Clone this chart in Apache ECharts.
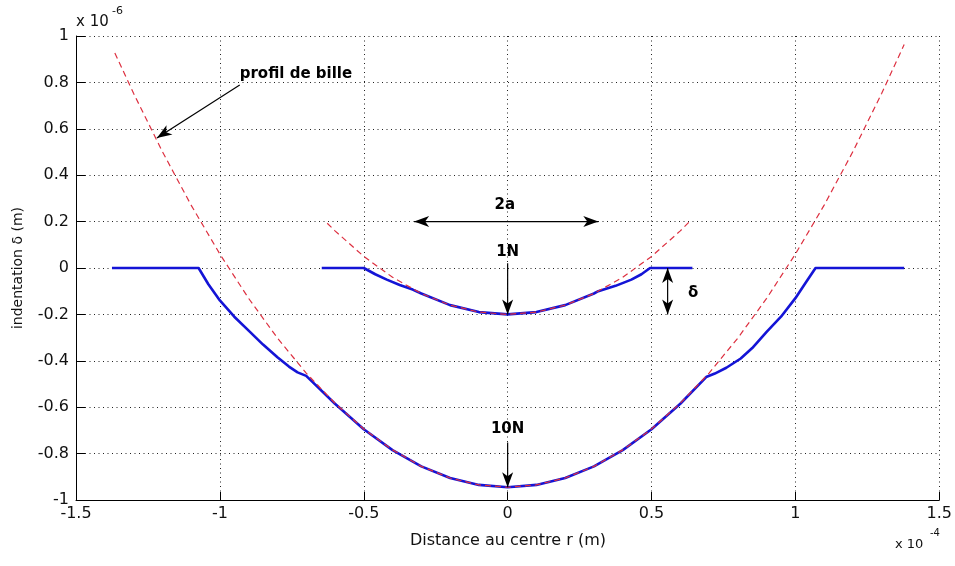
<!DOCTYPE html>
<html>
<head>
<meta charset="utf-8">
<script src="https://cdn.jsdelivr.net/npm/echarts@6/dist/echarts.min.js"></script>
<style>
html,body{margin:0;padding:0;background:#fff;}
#chart{width:955px;height:566px;}
</style>
</head>
<body>
<div id="chart"></div>
<script>
// x in units of 1e-4 m, y in units of 1e-6 m
const xTicks = [-1.5, -1, -0.5, 0, 0.5, 1, 1.5];
const yTicks = [-1, -0.8, -0.6, -0.4, -0.2, 0, 0.2, 0.4, 0.6, 0.8, 1];

const blue10X = [-1.375, -1.074, -1.04, -1.00, -0.95, -0.90, -0.85, -0.80, -0.76, -0.73, -0.70, -0.6, -0.5, -0.4, -0.3, -0.2, -0.1, 0, 0.1, 0.2, 0.3, 0.4, 0.5, 0.6, 0.69, 0.72, 0.76, 0.81, 0.85, 0.90, 0.95, 1.00, 1.035, 1.07, 1.378];
const blue10Y = [0, 0, -0.07, -0.14, -0.21, -0.27, -0.33, -0.385, -0.425, -0.45, -0.465, -0.585, -0.695, -0.785, -0.855, -0.905, -0.935, -0.945, -0.935, -0.905, -0.855, -0.785, -0.695, -0.585, -0.47, -0.455, -0.43, -0.39, -0.345, -0.275, -0.21, -0.13, -0.065, 0, 0];

const red10X = [-1.365, -1.3, -1.2, -1.1, -1.0, -0.9, -0.8, -0.7, -0.6, -0.5, -0.4, -0.3, -0.2, -0.1, 0, 0.1, 0.2, 0.3, 0.4, 0.5, 0.6, 0.7, 0.8, 0.9, 1.0, 1.1, 1.2, 1.3, 1.378];
const red10Y = [0.927, 0.753, 0.502, 0.271, 0.060, -0.131, -0.302, -0.453, -0.583, -0.694, -0.784, -0.855, -0.905, -0.935, -0.945, -0.935, -0.905, -0.855, -0.784, -0.694, -0.583, -0.453, -0.302, -0.131, 0.060, 0.271, 0.502, 0.753, 0.963];

const blue1X = [-0.646, -0.50, -0.46, -0.42, -0.375, -0.33, -0.3, -0.2, -0.1, 0, 0.1, 0.2, 0.3, 0.315, 0.375, 0.43, 0.465, 0.495, 0.642];
const blue1Y = [0, 0, -0.027, -0.05, -0.073, -0.093, -0.11, -0.16, -0.19, -0.2, -0.19, -0.16, -0.11, -0.10, -0.077, -0.05, -0.027, 0, 0];

const red1X = [-0.627, -0.6, -0.5, -0.4, -0.3, -0.2, -0.1, 0, 0.1, 0.2, 0.3, 0.4, 0.5, 0.6, 0.637];
const red1Y = [0.193, 0.16, 0.05, -0.04, -0.11, -0.16, -0.19, -0.2, -0.19, -0.16, -0.11, -0.04, 0.05, 0.16, 0.206];

// annotation anchors (data coordinates)
const annotProfil = {text: 'profil de bille', at: [-0.931, 0.836], from: [-0.931, 0.789], to: [-1.219, 0.56]};
const annot2a = {text: '2a', at: [-0.01, 0.27], left: [-0.325, 0.2], right: [0.315, 0.2]};
const annot1N = {text: '1N', at: [0, 0.068], from: [0, 0.02], to: [0, -0.2]};
const annotDelta = {text: 'δ', at: [0.645, -0.108], top: [0.556, 0], bottom: [0.556, -0.2]};
const annot10N = {text: '10N', at: [0, -0.695], from: [0, -0.752], to: [0, -0.945]};

const zip = (xs, ys) => xs.map((x, i) => [x, ys[i]]);
const FONT = '"DejaVu Sans", sans-serif';

const chart = echarts.init(document.getElementById('chart'), null, {renderer: 'canvas'});

const dotted = {color: '#222', width: 1, type: [1, 3.5]};
const option = {
  animation: false,
  backgroundColor: '#fff',
  grid: {left: 76, right: 15, top: 36, bottom: 66, containLabel: false},
  xAxis: {
    type: 'value', min: xTicks[0], max: xTicks[xTicks.length - 1], interval: 0.5,
    axisLine: {show: true, onZero: false, lineStyle: {color: '#000', width: 1}},
    axisTick: {show: true, inside: true, length: 8, lineStyle: {color: '#000'}},
    axisLabel: {color: '#111', fontFamily: FONT, fontSize: 16, margin: 6,
      formatter: v => String(+v.toFixed(1))},
    splitLine: {show: true, lineStyle: dotted}
  },
  yAxis: {
    type: 'value', min: yTicks[0], max: yTicks[yTicks.length - 1], interval: 0.2,
    axisLine: {show: true, onZero: false, lineStyle: {color: '#000', width: 1}},
    axisTick: {show: true, inside: true, length: 9, lineStyle: {color: '#000'}},
    axisLabel: {color: '#111', fontFamily: FONT, fontSize: 16, margin: 7,
      formatter: v => String(+v.toFixed(1))},
    splitLine: {show: true, lineStyle: dotted}
  },
  series: [
    {type: 'line', data: zip(blue10X, blue10Y), showSymbol: false, symbol: 'none',
      lineStyle: {color: '#1414d6', width: 2.6, join: 'round'}, z: 3},
    {type: 'line', data: zip(blue1X, blue1Y), showSymbol: false, symbol: 'none',
      lineStyle: {color: '#1414d6', width: 2.6, join: 'round'}, z: 3},
    {type: 'line', data: zip(red10X, red10Y), showSymbol: false, symbol: 'none',
      lineStyle: {color: '#dd3040', width: 1.2, type: [6, 4]}, z: 4},
    {type: 'line', data: zip(red1X, red1Y), showSymbol: false, symbol: 'none',
      lineStyle: {color: '#dd3040', width: 1.2, type: [6, 4]}, z: 4}
  ]
};
chart.setOption(option);

const P = d => chart.convertToPixel({gridIndex: 0}, d);

function arrowHead(tip, from, len, half, notch) {
  const dx = tip[0] - from[0], dy = tip[1] - from[1];
  const L = Math.hypot(dx, dy);
  const ux = dx / L, uy = dy / L;
  const px = -uy, py = ux;
  const bx = tip[0] - ux * len, by = tip[1] - uy * len;
  const nx = tip[0] - ux * (len - notch), ny = tip[1] - uy * (len - notch);
  return {
    type: 'polygon', z: 10,
    shape: {points: [tip, [bx + px * half, by + py * half], [nx, ny], [bx - px * half, by - py * half]]},
    style: {fill: '#000'}
  };
}
function lineEl(a, b) {
  return {type: 'line', z: 10, shape: {x1: a[0], y1: a[1], x2: b[0], y2: b[1]},
    style: {stroke: '#000', lineWidth: 1.2}};
}
function textEl(t, p, opts) {
  return Object.assign({type: 'text', z: 10, style: Object.assign({
    text: t, x: p[0], y: p[1], fill: '#000', font: 'bold 15px ' + FONT,
    textAlign: 'center', textVerticalAlign: 'middle'}, opts || {})});
}

const els = [];
{
  const f = P(annotProfil.from), t = P(annotProfil.to);
  els.push(lineEl(f, t), arrowHead(t, f, 15, 5.5, 4));
  els.push(textEl(annotProfil.text, P(annotProfil.at), {textAlign: 'left'}));
}
{
  const l = P(annot2a.left), r = P(annot2a.right);
  els.push(lineEl(l, r), arrowHead(l, r, 15, 5.5, 4), arrowHead(r, l, 15, 5.5, 4));
  els.push(textEl(annot2a.text, P(annot2a.at)));
}
{
  const f = P(annot1N.from), t = P(annot1N.to);
  els.push(lineEl(f, t), arrowHead(t, f, 15, 5.5, 4));
  els.push(textEl(annot1N.text, P(annot1N.at)));
}
{
  const a = P(annotDelta.top), b = P(annotDelta.bottom);
  els.push(lineEl(a, b), arrowHead(a, b, 15, 5.5, 4), arrowHead(b, a, 15, 5.5, 4));
  els.push(textEl(annotDelta.text, P(annotDelta.at)));
}
{
  const f = P(annot10N.from), t = P(annot10N.to);
  els.push(lineEl(f, t), arrowHead(t, f, 15, 5.5, 4));
  els.push(textEl(annot10N.text, P(annot10N.at)));
}
els.push({type: 'text', z: 10, x: 18, y: 268, rotation: Math.PI / 2,
  style: {text: 'indentation δ (m)', fill: '#111', font: '14px ' + FONT, textAlign: 'center', textVerticalAlign: 'middle'}});
els.push({type: 'text', z: 10, style: {text: 'Distance au centre r (m)', x: 508, y: 541, fill: '#111',
  font: '16px ' + FONT, textAlign: 'center', textVerticalAlign: 'middle'}});
els.push({type: 'text', z: 10, style: {text: 'x 10', x: 76, y: 22, fill: '#111',
  font: '15px ' + FONT, textAlign: 'left', textVerticalAlign: 'middle'}});
els.push({type: 'text', z: 10, style: {text: '-6', x: 112, y: 11, fill: '#111',
  font: '11px ' + FONT, textAlign: 'left', textVerticalAlign: 'middle'}});
els.push({type: 'text', z: 10, style: {text: 'x 10', x: 895, y: 545, fill: '#111',
  font: '13px ' + FONT, textAlign: 'left', textVerticalAlign: 'middle'}});
els.push({type: 'text', z: 10, style: {text: '-4', x: 930, y: 533, fill: '#111',
  font: '10px ' + FONT, textAlign: 'left', textVerticalAlign: 'middle'}});

chart.setOption({graphic: {elements: els}});
</script>
</body>
</html>
